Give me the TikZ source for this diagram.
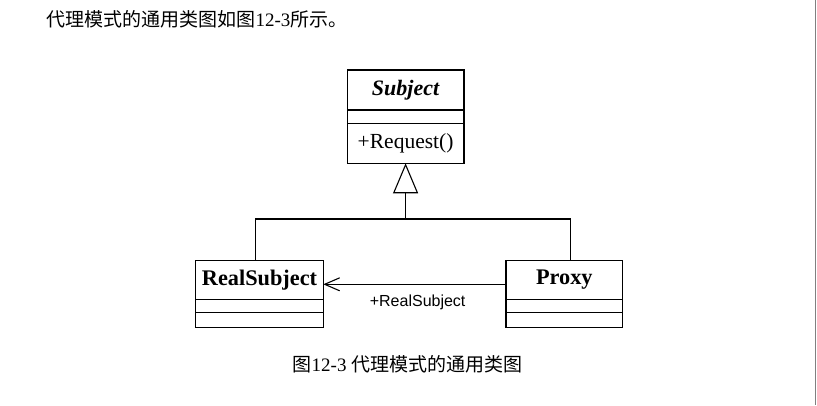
\documentclass[tikz,border=0pt]{standalone}
\usepackage{fontspec}
\setmainfont{Liberation Serif}
\setsansfont{Liberation Sans}
\newfontfamily\cjk{Noto Sans CJK SC}
\usetikzlibrary{positioning,arrows.meta}

\tikzset{
   classbox/.style={draw, inner sep=0pt, outer sep=0pt, font=\fontsize{21.5}{24}\selectfont},
   classtitle/.style={classbox, font=\fontsize{22.3}{24}\selectfont\bfseries},
   pagetext/.style={inner sep=0pt, font=\fontsize{19}{23}\selectfont},
}

\begin{document}
\begin{tikzpicture}[x=1pt, y=-1pt, line width=1.1pt]
   \useasboundingbox (0,0) rectangle (817,405);

   \node[pagetext, anchor=base west] (intro) at (46,26.7) {{\cjk 代理模式的通用类图如图}12-3{\cjk 所示。}};

   % Subject
   \node[classtitle, font=\fontsize{22}{24}\selectfont\bfseries\itshape, minimum width=116.7pt, minimum height=40pt] (subject) at (405.6,90) {Subject};
   \node[classbox, minimum width=116.7pt, minimum height=13.3pt, below=0pt of subject] (subjectattr) {};
   \node[classbox, minimum width=116.7pt, minimum height=40pt, below=0pt of subjectattr] (subjectops) {+Request()};

   % RealSubject
   \node[classtitle, minimum width=127.6pt, minimum height=38.6pt] (real) at (259.5,280) {RealSubject};
   \node[classbox, minimum width=127.6pt, minimum height=13pt, below=0pt of real] (realattr) {};
   \node[classbox, minimum width=127.6pt, minimum height=15pt, below=0pt of realattr] (realops) {};

   % Proxy
   \node[classtitle, minimum width=116.7pt, minimum height=38.6pt] (proxy) at (564.35,280) {Proxy};
   \node[classbox, minimum width=116.7pt, minimum height=13pt, below=0pt of proxy] (proxyattr) {};
   \node[classbox, minimum width=116.7pt, minimum height=15pt, below=0pt of proxyattr] (proxyops) {};

   % generalization
   \coordinate (fork) at (405.6,219);
   \draw ([xshift=-3.8pt]real.north) |- (fork) -| ([xshift=6.4pt]proxy.north);
   \draw[-{Triangle[open, length=30pt, width=25pt]}] (fork) -- (subjectops.south);

   % association
   \draw[-{Straight Barb[length=15pt, width=13pt]}] ([yshift=-4.3pt]proxy.west) -- ([yshift=-4.3pt]real.east)
      node[midway, below=10pt, xshift=3pt, inner sep=0pt, font=\sffamily\fontsize{16}{18}\selectfont] (role) {+RealSubject};

   \node[pagetext, anchor=base] (caption) at (407.5,371.7) {{\cjk 图}12-3 {\cjk 代理模式的通用类图}};

   \draw[gray, line width=1.5pt] (815.7,0) -- (815.7,405);
\end{tikzpicture}
\end{document}
